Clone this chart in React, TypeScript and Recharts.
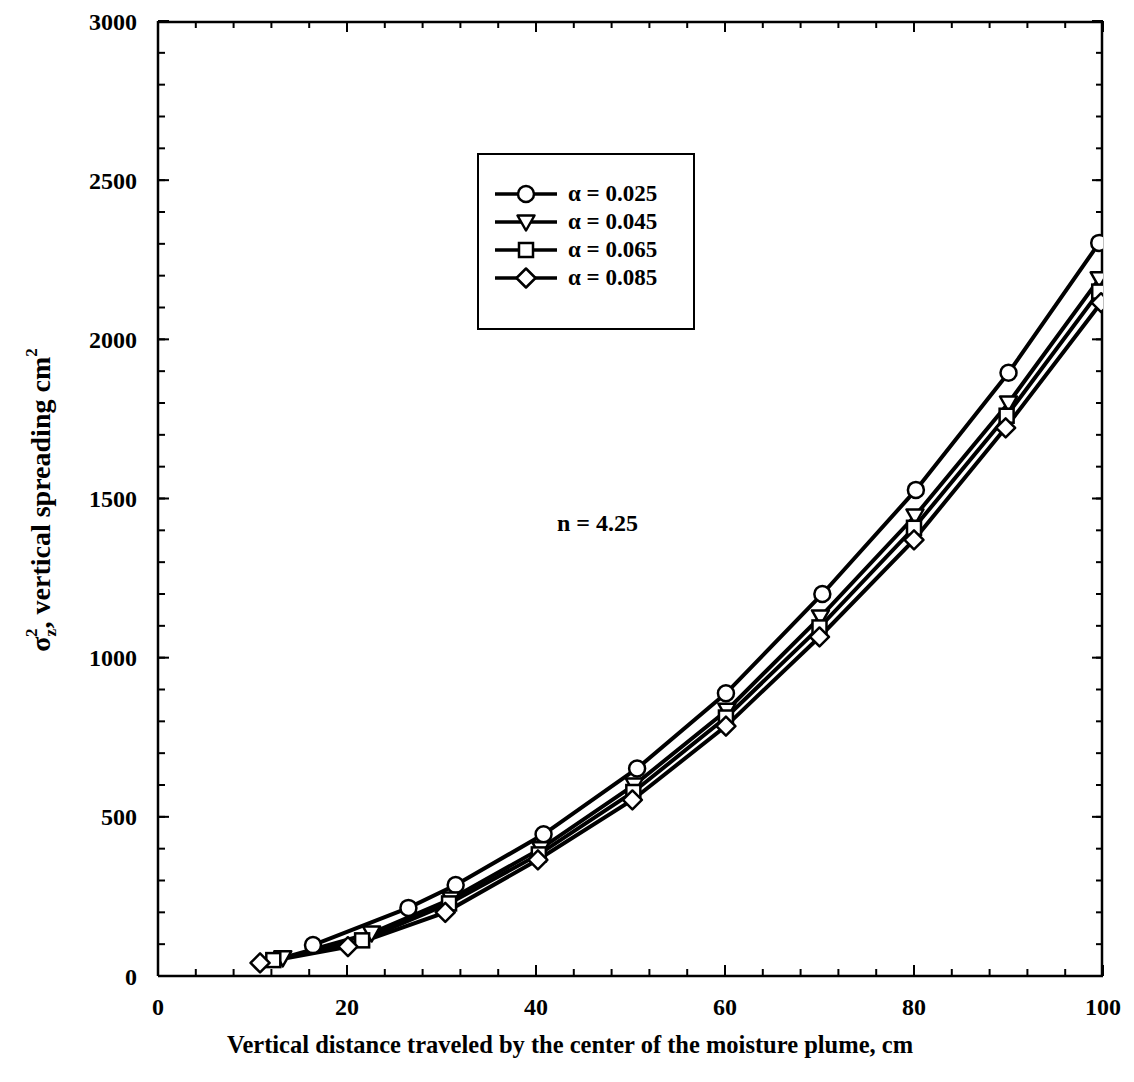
import React from "react";
import { LineChart, Line, XAxis, YAxis, ReferenceDot } from "recharts";

// ---- data ----
const alpha025X = [16.4, 26.5, 31.5, 40.8, 50.7, 60.1, 70.3, 80.2, 90.0, 99.6];
const alpha025Y = [97, 214, 286, 445, 652, 888, 1200, 1527, 1895, 2303];

const alpha045X = [13.2, 22.6, 31.0, 40.5, 50.4, 60.2, 70.1, 80.1, 90.0, 99.6];
const alpha045Y = [57, 135, 242, 400, 600, 835, 1128, 1445, 1800, 2190];

const alpha065X = [12.2, 21.6, 30.8, 40.3, 50.3, 60.1, 70.0, 80.0, 89.8, 99.6];
const alpha065Y = [50, 112, 228, 382, 578, 812, 1095, 1408, 1760, 2150];

const alpha085X = [10.8, 20.1, 30.4, 40.2, 50.2, 60.1, 70.0, 80.0, 89.7, 99.8];
const alpha085Y = [41, 92, 200, 365, 553, 785, 1065, 1370, 1722, 2115];

const seriesLabels = ["α = 0.025", "α = 0.045", "α = 0.065", "α = 0.085"];
const seriesShapes = ["circle", "triangle", "square", "diamond"];

const xMajorTicks = [0, 20, 40, 60, 80, 100];
const xMinorTicks = [0, 4, 8, 12, 16, 20, 24, 28, 32, 36, 40, 44, 48, 52, 56, 60, 64, 68, 72, 76, 80, 84, 88, 92, 96, 100];
const yMajorTicks = [0, 500, 1000, 1500, 2000, 2500, 3000];
const yMinorTicks = [0, 100, 200, 300, 400, 500, 600, 700, 800, 900, 1000, 1100, 1200, 1300, 1400, 1500, 1600, 1700, 1800, 1900, 2000, 2100, 2200, 2300, 2400, 2500, 2600, 2700, 2800, 2900, 3000];

const annotationX = 46.5;
const annotationY = 1423;
const annotationText = "n = 4.25";

const xTitle = "Vertical distance traveled by the center of the moisture plume, cm";

const toPoints = (xs: number[], ys: number[]) => xs.map((x, i) => ({ x, y: ys[i] }));
const seriesData = [
  toPoints(alpha025X, alpha025Y),
  toPoints(alpha045X, alpha045Y),
  toPoints(alpha065X, alpha065Y),
  toPoints(alpha085X, alpha085Y),
];

const FONT = "'Liberation Serif', 'Times New Roman', serif";

function Marker({ cx, cy, shape }: { cx: number; cy: number; shape: string }) {
  const sw = 2.5;
  if (shape === "circle") {
    return <circle cx={cx} cy={cy} r={8} fill="#fff" stroke="#000" strokeWidth={sw} />;
  }
  if (shape === "triangle") {
    const d = `M${cx - 8.5},${cy - 6.5} L${cx + 8.5},${cy - 6.5} L${cx},${cy + 8.5} Z`;
    return <path d={d} fill="#fff" stroke="#000" strokeWidth={sw} strokeLinejoin="round" />;
  }
  if (shape === "square") {
    return <rect x={cx - 7} y={cy - 7} width={14} height={14} fill="#fff" stroke="#000" strokeWidth={sw} />;
  }
  const d = `M${cx},${cy - 9.5} L${cx + 9.5},${cy} L${cx},${cy + 9.5} L${cx - 9.5},${cy} Z`;
  return <path d={d} fill="#fff" stroke="#000" strokeWidth={sw} strokeLinejoin="round" />;
}

const makeDot = (shape: string) => (p: any) => {
  if (p == null || p.cx == null || p.cy == null) return <g key={`${shape}-e-${p?.index}`} />;
  return (
    <g key={`${shape}-${p.index}`}>
      <Marker cx={p.cx} cy={p.cy} shape={shape} />
    </g>
  );
};

const noLabel = (p: any) => <g key={`nl-${p?.index}`} />;

function LegendBox() {
  return (
    <div
      style={{
        position: "absolute",
        left: 477,
        top: 153,
        boxSizing: "border-box",
        width: 218,
        height: 177,
        border: "2.5px solid #000",
        background: "#fff",
        paddingTop: 25,
        paddingLeft: 16,
        fontFamily: FONT,
        fontWeight: "bold",
        fontSize: 23,
        color: "#000",
      }}
    >
      {seriesLabels.map((label, i) => (
        <div key={label} style={{ display: "flex", alignItems: "center", height: 28 }}>
          <svg width={62} height={24} style={{ marginRight: 11, flex: "none" }}>
            <line x1={0} y1={12} x2={62} y2={12} stroke="#000" strokeWidth={3.5} />
            <Marker cx={31} cy={12} shape={seriesShapes[i]} />
          </svg>
          <span style={{ lineHeight: "28px", whiteSpace: "nowrap" }}>{label}</span>
        </div>
      ))}
    </div>
  );
}

function YTitle(props: any) {
  const cx = 50;
  const cy = 500;
  return (
    <text
      x={cx}
      y={cy}
      transform={`rotate(-90 ${cx} ${cy})`}
      textAnchor="middle"
      fontFamily={FONT}
      fontWeight="bold"
      fontSize={28}
      fill="#000"
    >
      <tspan>σ</tspan>
      <tspan fontSize={17} dy={6}>z</tspan>
      <tspan fontSize={17} dx={-8} dy={-19}>2</tspan>
      <tspan fontSize={28} dy={13}>, vertical spreading cm</tspan>
      <tspan fontSize={17} dy={-13}>2</tspan>
    </text>
  );
}

function XTitle(props: any) {
  return (
    <text x={570} y={1053} textAnchor="middle" fontFamily={FONT} fontWeight="bold" fontSize={24.5} fill="#000">
      {xTitle}
    </text>
  );
}

function Annotation(props: any) {
  const vb = props.viewBox || {};
  const x = vb.cx ?? vb.x ?? 0;
  const y = vb.cy ?? vb.y ?? 0;
  return (
    <text x={x} y={y} dy="0.35em" textAnchor="middle" fontFamily={FONT} fontWeight="bold" fontSize={24} fill="#000">
      {annotationText}
    </text>
  );
}

const tickStyle = { fontFamily: FONT, fontWeight: "bold", fontSize: 24, fill: "#000" };
const axisLineStyle = { stroke: "#000", strokeWidth: 2.5 };
const tickLineStyle = { stroke: "#000", strokeWidth: 2 };

export default function App() {
  return (
    <div style={{ position: "absolute", left: 0, top: 0, width: 1134, height: 1082, background: "#fff" }}>
      <LineChart width={1134} height={1082} margin={{ top: 21, right: 31, bottom: 0, left: 0 }}>
        {/* labelled axes */}
        <XAxis
          xAxisId="x"
          type="number"
          dataKey="x"
          domain={[0, 100]}
          allowDataOverflow
          ticks={xMajorTicks}
          tickLine={false}
          axisLine={axisLineStyle}
          tick={tickStyle}
          tickSize={6}
          tickMargin={16}
          height={106}
          label={<XTitle />}
        />
        <YAxis
          yAxisId="y"
          type="number"
          domain={[0, 3000]}
          allowDataOverflow
          ticks={yMajorTicks}
          tickLine={false}
          axisLine={axisLineStyle}
          tick={tickStyle}
          tickSize={6}
          tickMargin={15}
          width={158}
          label={<YTitle />}
        />
        {/* inward tick marks on all four sides */}
        <XAxis xAxisId="xbMinor" dataKey="x" type="number" domain={[0, 100]} allowDataOverflow ticks={xMinorTicks} interval={0} orientation="bottom" mirror height={1} tick={noLabel} tickSize={6} axisLine={false} tickLine={tickLineStyle} />
        <XAxis xAxisId="xbMajor" dataKey="x" type="number" domain={[0, 100]} allowDataOverflow ticks={xMajorTicks} interval={0} orientation="bottom" mirror height={1} tick={noLabel} tickSize={11} axisLine={false} tickLine={tickLineStyle} />
        <XAxis xAxisId="xtMinor" dataKey="x" type="number" domain={[0, 100]} allowDataOverflow ticks={xMinorTicks} interval={0} orientation="top" mirror height={1} tick={noLabel} tickSize={6} axisLine={axisLineStyle} tickLine={tickLineStyle} />
        <XAxis xAxisId="xtMajor" dataKey="x" type="number" domain={[0, 100]} allowDataOverflow ticks={xMajorTicks} interval={0} orientation="top" mirror height={1} tick={noLabel} tickSize={11} axisLine={false} tickLine={tickLineStyle} />
        <YAxis yAxisId="ylMinor" type="number" domain={[0, 3000]} allowDataOverflow ticks={yMinorTicks} interval={0} orientation="left" mirror width={1} tick={noLabel} tickSize={6} axisLine={false} tickLine={tickLineStyle} />
        <YAxis yAxisId="ylMajor" type="number" domain={[0, 3000]} allowDataOverflow ticks={yMajorTicks} interval={0} orientation="left" mirror width={1} tick={noLabel} tickSize={11} axisLine={false} tickLine={tickLineStyle} />
        <YAxis yAxisId="yrMinor" type="number" domain={[0, 3000]} allowDataOverflow ticks={yMinorTicks} interval={0} orientation="right" mirror width={1} tick={noLabel} tickSize={6} axisLine={axisLineStyle} tickLine={tickLineStyle} />
        <YAxis yAxisId="yrMajor" type="number" domain={[0, 3000]} allowDataOverflow ticks={yMajorTicks} interval={0} orientation="right" mirror width={1} tick={noLabel} tickSize={11} axisLine={false} tickLine={tickLineStyle} />

        {seriesData.map((data, i) => (
          <Line
            key={seriesLabels[i]}
            name={seriesLabels[i]}
            xAxisId="x"
            yAxisId="y"
            data={data}
            dataKey="y"
            type="linear"
            stroke="#000"
            strokeWidth={4}
            dot={makeDot(seriesShapes[i])}
            activeDot={false}
            isAnimationActive={false}
          />
        ))}

        <ReferenceDot xAxisId="x" yAxisId="y" x={annotationX} y={annotationY} r={0} fill="none" stroke="none" label={<Annotation />} />
      </LineChart>
      <LegendBox />
    </div>
  );
}
